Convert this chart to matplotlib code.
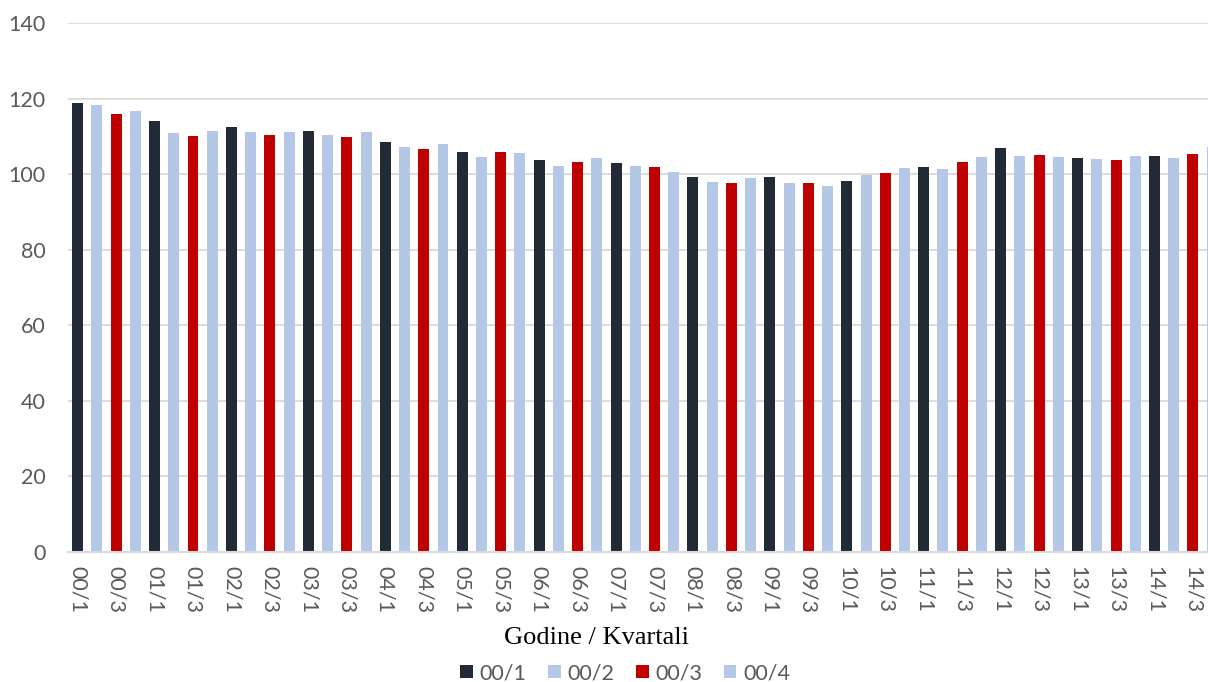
import matplotlib
matplotlib.use("Agg")
import matplotlib.pyplot as plt
from matplotlib.patches import Patch

categories = [f"{y:02d}/{q}" for y in range(0, 15) for q in range(1, 5)]
values = [
    118.9, 118.3, 116.0, 116.7,   # 00
    114.1, 110.9, 110.1, 111.5,   # 01
    112.5, 111.2, 110.4, 111.2,   # 02
    111.5, 110.4, 109.9, 111.2,   # 03
    108.5, 107.2, 106.7, 108.0,   # 04
    105.9, 104.6, 105.9, 105.6,   # 05
    103.8, 102.2, 103.3, 104.3,   # 06
    103.0, 102.2, 101.9, 100.6,   # 07
    99.3, 98.0, 97.7, 99.0,       # 08
    99.3, 97.7, 97.7, 96.9,       # 09
    98.2, 99.8, 100.3, 101.7,     # 10
    101.9, 101.4, 103.3, 104.6,   # 11
    107.0, 104.8, 105.1, 104.6,   # 12
    104.3, 104.0, 103.8, 104.8,   # 13
    104.8, 104.3, 105.4, 107.2,   # 14
]
legend_labels = ["00/1", "00/2", "00/3", "00/4"]
quarter_colors = ["#222a35", "#b4c7e7", "#c00000", "#b4c7e7"]
x_title = "Godine / Kvartali"
yticks = list(range(0, 141, 20))

W, H = 1208, 682
fig = plt.figure(figsize=(W / 100, H / 100), dpi=100)
left_px, right_px, top_px, bottom_px = 68, 1208, 23, 552
ax = fig.add_axes([left_px / W, 1 - bottom_px / H, (right_px - left_px) / W, (bottom_px - top_px) / H])

sans = ["Lato", "DejaVu Sans"]
grey = "#595959"
fs = 15.5

xs = list(range(len(values)))
colors = [quarter_colors[i % 4] for i in xs]
ax.bar(xs, values, width=0.57, color=colors, zorder=3)

ax.set_ylim(0, 140)
ax.set_xlim(-0.5, -0.5 + (right_px - left_px) / 19.23)
ax.set_yticks(yticks)
ax.set_yticklabels([str(t) for t in yticks], fontsize=fs, color=grey, family=sans)
ax.yaxis.grid(True, color="#d9d9d9", linewidth=1.3, zorder=0)
ax.tick_params(axis="y", length=0, pad=16)
ax.set_xticks(xs[::2])
ax.set_xticklabels(categories[::2], rotation=-90, fontsize=fs, color=grey, family=sans)
ax.tick_params(axis="x", length=0, pad=10)
for s in ["top", "right", "left"]:
    ax.spines[s].set_visible(False)
ax.spines["bottom"].set_color("#d9d9d9")
ax.spines["bottom"].set_linewidth(1.5)
ax.spines["bottom"].set_zorder(4)

fig.text(596 / W, 1 - 638 / H, x_title, ha="center", va="center",
         fontsize=19, family=["Liberation Serif", "DejaVu Serif"], color="black")

handles = [Patch(facecolor=c, edgecolor="none") for c in quarter_colors]
leg = fig.legend(handles, legend_labels, loc="center", bbox_to_anchor=(625 / W, 1 - 673 / H),
                 ncol=4, frameon=False, prop={"family": sans, "size": fs},
                 handlelength=0.6, handleheight=0.6, handletextpad=0.3, columnspacing=1.0,
                 borderpad=0)
for t in leg.get_texts():
    t.set_color(grey)

fig.savefig("out.png", dpi=100)
